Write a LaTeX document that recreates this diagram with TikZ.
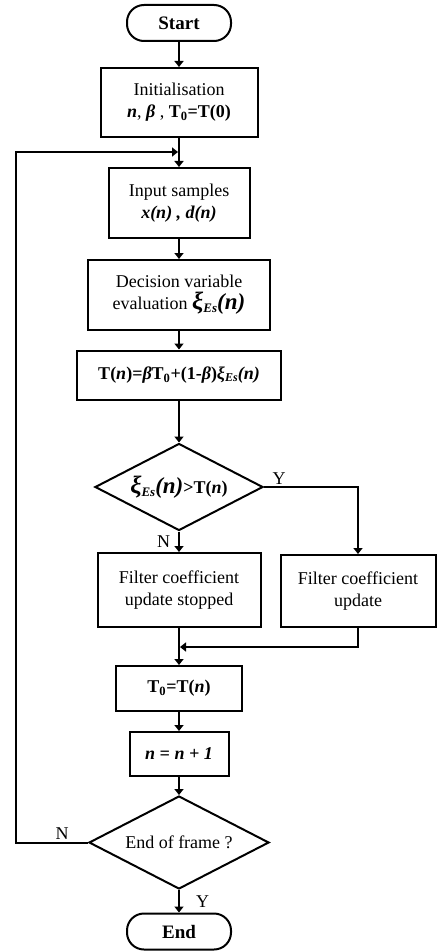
\documentclass[tikz,border=0pt]{standalone}
\usepackage{fontspec}
\setmainfont{Liberation Serif}
\usetikzlibrary{shapes.geometric, arrows.meta, positioning}

\newcommand{\bi}[1]{\textbf{\textit{#1}}}
\newcommand{\xibig}{{\fontsize{25}{25}\selectfont\bi{ξ}}\raisebox{-0.35ex}{\fontsize{13}{13}\selectfont\bi{Es}}}
\newcommand{\xismall}{\bi{ξ}\raisebox{-0.3ex}{\fontsize{12}{12}\selectfont\bi{Es}}}
\newcommand{\nbig}{{\fontsize{23}{23}\selectfont\bi{(n)}}}

\tikzset{
    box/.style={draw, line width=2pt, rectangle, align=center, inner sep=2pt},
    term/.style={draw, line width=2pt, rectangle, rounded corners=17pt,
        minimum width=104pt, minimum height=36pt,
        font=\fontsize{19}{22}\selectfont\bfseries},
    test/.style={draw, line width=2pt, diamond, inner sep=0pt},
    flow/.style={line width=2pt, -{Triangle[length=6pt,width=9pt]}},
    lbl/.style={inner sep=2pt}
}

\begin{document}
\begin{tikzpicture}[x=1pt, y=-1pt, font=\fontsize{18}{22}\selectfont]

    \useasboundingbox (0,0) rectangle (437,952);

    % main column
    \node[term] (start) at (179,23) {Start};
    \node[box, minimum width=157pt, minimum height=69pt] (init) at (179,102.5)
        {Initialisation\\ \bi{n}, \bi{β} , \textbf{T\textsubscript{0}=T(0)}};
    \node[box, minimum width=141pt, minimum height=70pt] (input) at (179,203)
        {Input samples\\ \bi{x(n) , d(n)}};
    \node[box, minimum width=182pt, minimum height=70pt] (decis) at (179,295)
        {Decision variable\\ evaluation \xibig\nbig};
    \node[box, minimum width=204pt, minimum height=49pt] (thr) at (179,375)
        {\textbf{T(\textit{n})=\textit{β}T\textsubscript{0}+(1-\textit{β})}\xismall\bi{(n)}};
    \node[test, minimum width=168pt, minimum height=87pt] (cmp) at (179,487)
        {\makebox[0pt]{\xibig\nbig\textbf{>T(\textit{n})}}};

    % two branches
    \node[box, minimum width=163pt, minimum height=74pt] (stop) at (179,590)
        {Filter coefficient\\ update stopped};
    \node[box, minimum width=155pt, minimum height=72pt] (upd) at (358,591)
        {Filter coefficient\\ update};

    \node[box, minimum width=126pt, minimum height=45pt] (t0) at (179,688.5)
        {\textbf{T\textsubscript{0}=T(\textit{n})}};
    \node[box, minimum width=99pt, minimum height=44pt] (inc) at (179,754)
        {\bi{n = n + 1}};
    \node[test, minimum width=180pt, minimum height=93pt] (frame) at (179,842.5)
        {\makebox[0pt]{End of frame ?}};
    \node[term] (end) at (179,931.5) {End};

    \coordinate (join) at (179,152);
    \coordinate (back) at (16,152);
    \coordinate (merge) at (179,647);

    % connectors
    \draw[flow] (start) -- (init);
    \draw[flow] (init) -- (input);
    \draw[flow] (input) -- (decis);
    \draw[flow] (decis) -- (thr);
    \draw[flow] (thr) -- (cmp);
    \draw[flow] (cmp.east) -| node[lbl, pos=0.08, above] {Y} (upd.north);
    \draw[flow] (cmp.south) -- node[lbl, pos=0.5, left=6pt] {N} (stop.north);
    \draw[flow, shorten >=1pt] (upd.south) |- (merge);
    \draw[flow] (stop) -- (t0);
    \draw[flow] (t0) -- (inc);
    \draw[flow] (inc) -- (frame);
    \draw[flow] (frame) -- node[lbl, pos=0.5, right=14pt] {Y} (end);
    \draw[flow, shorten >=1pt] (frame.west) -| node[lbl, pos=0.18, above] {N} (back) -- (join);

\end{tikzpicture}
\end{document}
